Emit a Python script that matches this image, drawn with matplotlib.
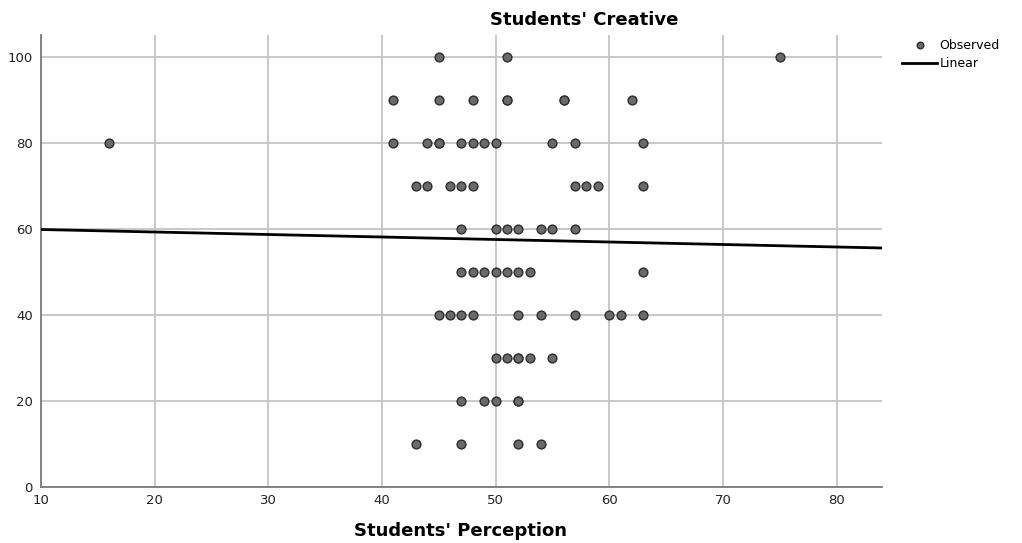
import numpy as np
import matplotlib.pyplot as plt

plt.rcParams['font.family'] = ['DejaVu Sans']

# Students' Perception (x) and Students' Creative (y), grouped by row
rows = {
    100: [45, 51, 75],
    90: [41, 45, 48, 51, 51, 56, 56, 62],
    80: [16, 41, 44, 45, 45, 47, 48, 49, 50, 55, 57, 63],
    70: [43, 44, 46, 47, 48, 57, 58, 59, 63],
    60: [47, 50, 51, 52, 54, 55, 57],
    50: [47, 48, 49, 50, 51, 52, 53, 63],
    40: [45, 46, 47, 48, 52, 54, 57, 60, 61, 63],
    30: [50, 51, 52, 52, 53, 55],
    20: [47, 49, 50, 52, 52],
    10: [43, 47, 52, 54],
}
perception = np.array([x for y, xs in rows.items() for x in xs])
creative = np.array([y for y, xs in rows.items() for x in xs])

# linear fit
fit_intercept = 60.4
fit_slope = -0.058

xticks = [10, 20, 30, 40, 50, 60, 70, 80]
yticks = [0, 20, 40, 60, 80, 100]

fig = plt.figure(figsize=(10.22, 5.43), dpi=100)
ax = fig.add_axes([0.0401, 0.1031, 0.8229, 0.8324])

ax.scatter(perception, creative, s=40, c='#6a6a6a', edgecolors='#2e2e2e',
           linewidths=1.0, zorder=3, label='Observed')
xl = np.array([10, 84])
ax.plot(xl, fit_intercept + fit_slope * xl, c='black', lw=2, zorder=4,
        label='Linear')

ax.set_xlim(10, 84)
ax.set_ylim(0, 105)
ax.set_xticks(xticks)
ax.set_yticks(yticks)
ax.grid(True, color='#c4c4c4', lw=1.3)
ax.set_axisbelow(True)
for s in ('top', 'right'):
    ax.spines[s].set_visible(False)
for s in ('left', 'bottom'):
    ax.spines[s].set_color('#7a7a7a')
    ax.spines[s].set_linewidth(1.3)
ax.tick_params(length=0, labelsize=9.5, colors='#222222', pad=6)
ax.tick_params(axis='x', pad=5)

fig.text(0.451, 0.0129, "Students' Perception", fontsize=13, fontweight='bold',
         ha='center', va='baseline')
fig.text(0.572, 0.963, "Students' Creative", fontsize=13, fontweight='bold',
         ha='center', va='center')

ax.legend(loc='upper left', bbox_to_anchor=(0.8826, 0.929),
          bbox_transform=fig.transFigure, frameon=False, borderpad=0,
          borderaxespad=0, fontsize=9, handlelength=2.8, handletextpad=0.2,
          labelspacing=0.45, markerscale=0.75)

fig.savefig('out.png', dpi=100)
